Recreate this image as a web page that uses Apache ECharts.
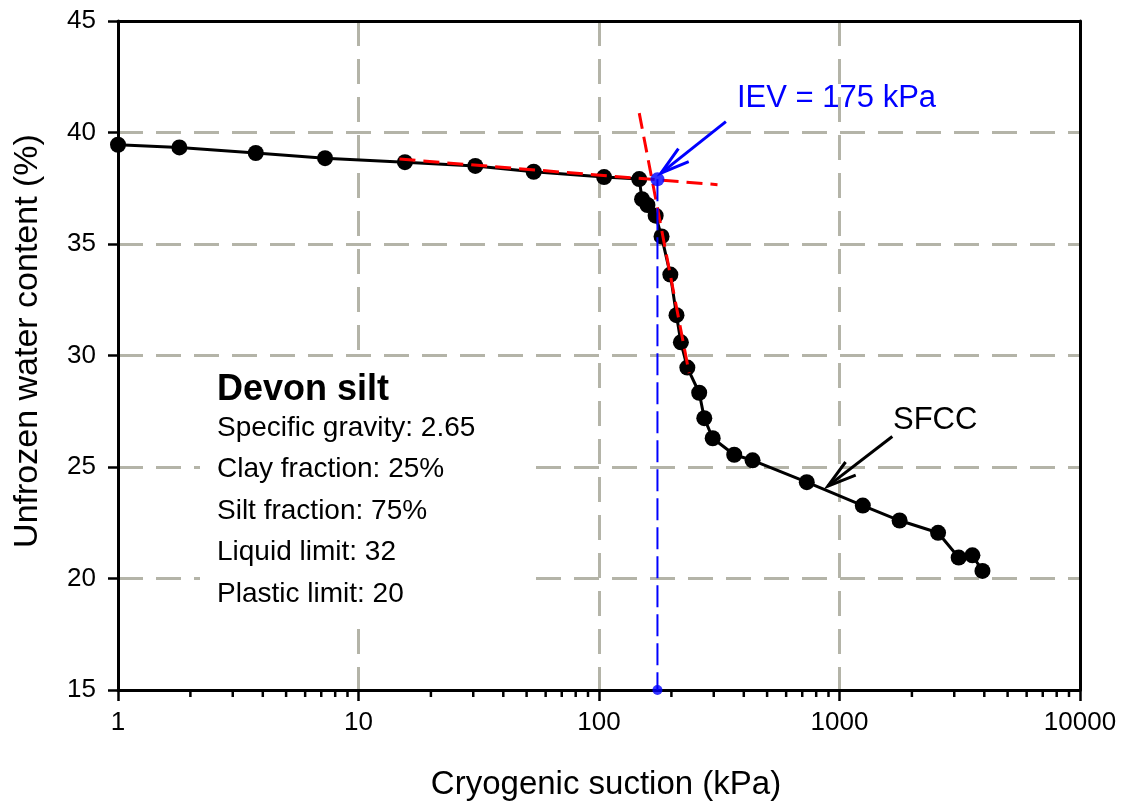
<!DOCTYPE html>
<html>
<head>
<meta charset="utf-8">
<title>Devon silt SFCC</title>
<script src="https://cdn.jsdelivr.net/npm/echarts@6/dist/echarts.min.js"></script>
<style>
  html, body { margin: 0; padding: 0; background: #ffffff; }
  #chart { width: 1122px; height: 806px; }
</style>
</head>
<body>
<div id="chart"></div>
<script>
// Soil freezing characteristic curve: cryogenic suction (kPa) vs unfrozen water content (%)
const suction = [1, 1.8, 3.74, 7.26, 15.6, 30.6, 53.5, 105, 147, 151, 159, 172, 182, 198, 210, 219, 233,
                 261, 274, 297, 365, 435, 731, 1250, 1778, 2570, 3130, 3570, 3930];
const water = [39.45, 39.33, 39.08, 38.85, 38.67, 38.50, 38.24, 38.0, 37.91, 37.01, 36.75, 36.27, 35.34,
               33.63, 31.81, 30.59, 29.46, 28.33, 27.19, 26.29, 25.55, 25.30, 24.32, 23.27, 22.60, 22.05,
               20.94, 21.04, 20.34];

// Axis ticks
const xTickLabels = ['1', '10', '100', '1000', '10000'];
const xMinorTicks = [];
[1, 10, 100, 1000].forEach(d => { for (let k = 2; k <= 9; k++) xMinorTicks.push(k * d); });
const yMin = 15, yMax = 45, yStep = 5;

// Tangent construction lines and the ice-entry value
const upperTangent = [[14.8, 38.81], [311, 37.66]];
const steepTangent = [[147, 40.87], [237, 29.21]];
const iev = 175;
const ievWater = 37.9;

// Annotation arrows: [fromX, fromY, toX, toY]
const ievArrow = [[337, 40.49, 181, 38.18]];
const sfccArrow = [[1658, 26.37, 894, 24.14]];

const soilName = 'Devon silt';
const soilInfo = ['Specific gravity: 2.65', 'Clay fraction: 25%', 'Silt fraction: 75%',
                  'Liquid limit: 32', 'Plastic limit: 20'];

const FONT = '"Liberation Sans", Arial, Helvetica, sans-serif';
const GRID_COLOR = '#b4b4a8';

const chart = echarts.init(document.getElementById('chart'), null, { renderer: 'canvas' });

function arrowRenderer(color) {
  return function (params, api) {
    const p0 = api.coord([api.value(0), api.value(1)]);
    const p1 = api.coord([api.value(2), api.value(3)]);
    const ang = Math.atan2(p0[1] - p1[1], p0[0] - p1[0]);
    const L = 30, h = 0.28;
    const w1 = [p1[0] + L * Math.cos(ang + h), p1[1] + L * Math.sin(ang + h)];
    const w2 = [p1[0] + L * Math.cos(ang - h), p1[1] + L * Math.sin(ang - h)];
    return {
      type: 'group',
      children: [
        { type: 'line', shape: { x1: p0[0], y1: p0[1], x2: p1[0], y2: p1[1] },
          style: { stroke: color, lineWidth: 3 } },
        { type: 'polyline', shape: { points: [w1, p1, w2] },
          style: { stroke: color, lineWidth: 3, fill: 'none' } }
      ]
    };
  };
}

// Soil properties panel: a white box that hides the grid behind the text
const infoChildren = [
  { type: 'rect', z: 1, shape: { x: 200, y: 362, width: 325, height: 260 },
    style: { fill: '#ffffff' } },
  { type: 'text', z: 1, x: 217, y: 390,
    style: { text: soilName, font: 'bold 36px ' + FONT, fill: '#000', textVerticalAlign: 'middle' } }
];
soilInfo.forEach((t, i) => {
  infoChildren.push({
    type: 'text', z: 1, x: 217, y: 428 + i * 41.5,
    style: { text: t, font: '28px ' + FONT, fill: '#000', textVerticalAlign: 'middle' }
  });
});

const option = {
  backgroundColor: '#ffffff',
  animation: false,
  grid: { left: 118, right: 42, top: 21, bottom: 115, containLabel: false },
  xAxis: [
    {
      type: 'log', logBase: 10, min: 1, max: 10000, position: 'bottom', z: 1,
      axisLine: { show: true, onZero: false, lineStyle: { color: '#000', width: 3 } },
      axisTick: { show: true, inside: false, length: 11, lineStyle: { color: '#000', width: 2.5 } },
      axisLabel: {
        show: true, margin: 20, color: '#000', fontSize: 26, fontFamily: FONT,
        formatter: v => xTickLabels[Math.round(Math.log10(v))]
      },
      splitLine: { show: false },
      name: 'Cryogenic suction (kPa)', nameLocation: 'middle', nameGap: 78,
      nameTextStyle: { color: '#000', fontSize: 33, fontFamily: FONT, padding: [0, 0, 0, 14] }
    },
    {
      type: 'log', logBase: 10, min: 1, max: 10000, position: 'top', z: 1,
      axisLine: { show: true, onZero: false, lineStyle: { color: '#000', width: 3 } },
      axisTick: { show: false }, axisLabel: { show: false }, splitLine: { show: false }
    },
    {
      type: 'log', logBase: 10, min: 1, max: 10000, position: 'bottom', z: 0,
      axisLine: { show: false }, axisTick: { show: false }, axisLabel: { show: false },
      splitLine: { show: true, lineStyle: { color: GRID_COLOR, width: 3, type: [25, 13] } }
    }
  ],
  yAxis: [
    {
      type: 'value', min: yMin, max: yMax, interval: yStep, position: 'left', z: 1,
      axisLine: { show: true, onZero: false, lineStyle: { color: '#000', width: 3 } },
      axisTick: { show: true, inside: false, length: 10, lineStyle: { color: '#000', width: 2.5 } },
      axisLabel: { show: true, margin: 22, color: '#000', fontSize: 26, fontFamily: FONT },
      splitLine: { show: false }
    },
    {
      type: 'value', min: yMin, max: yMax, interval: yStep, position: 'right', z: 1,
      axisLine: { show: true, onZero: false, lineStyle: { color: '#000', width: 3 } },
      axisTick: { show: false }, axisLabel: { show: false }, splitLine: { show: false }
    },
    {
      type: 'value', min: yMin, max: yMax, interval: yStep, position: 'left', z: 0,
      axisLine: { show: false }, axisTick: { show: false }, axisLabel: { show: false },
      splitLine: { show: true, lineStyle: { color: GRID_COLOR, width: 3, type: [25, 13] } }
    }
  ],
  graphic: [
    { type: 'group', z: 1, children: infoChildren },
    { type: 'text', z: 5, x: 28, y: 341, rotation: Math.PI / 2,
      style: { text: 'Unfrozen water content (%)', font: '34px ' + FONT, fill: '#000',
               textAlign: 'center', textVerticalAlign: 'middle' } },
    { type: 'text', z: 5, x: 737, y: 98,
      style: { text: 'IEV = 175 kPa', font: '31px ' + FONT, fill: '#0000ff', textVerticalAlign: 'middle' } },
    { type: 'text', z: 5, x: 893, y: 420,
      style: { text: 'SFCC', font: '31px ' + FONT, fill: '#000', textVerticalAlign: 'middle' } }
  ],
  series: [
    {
      name: 'SFCC', type: 'line', z: 2,
      data: suction.map((s, i) => [s, water[i]]),
      symbol: 'circle', symbolSize: 16,
      lineStyle: { color: '#000', width: 3 },
      itemStyle: { color: '#000' },
      clip: false
    },
    {
      name: 'upper tangent', type: 'line', z: 3, data: upperTangent, symbol: 'none',
      lineStyle: { color: '#ff0000', width: 3, type: [16, 8] }
    },
    {
      name: 'steep tangent', type: 'line', z: 3, data: steepTangent, symbol: 'none',
      lineStyle: { color: '#ff0000', width: 3, type: [16, 8] }
    },
    {
      name: 'IEV guide', type: 'line', z: 4, clip: false,
      data: [[iev, ievWater], [iev, yMin]],
      symbol: 'none',
      lineStyle: { color: '#0000ff', width: 2, type: [22, 7] }
    },
    {
      name: 'IEV', type: 'scatter', z: 5, clip: false,
      data: [[iev, ievWater, 14], [iev, yMin, 10]],
      symbol: 'circle', symbolSize: d => d[2],
      itemStyle: { color: '#0000ff' }
    },
    {
      name: 'minor ticks', type: 'custom', z: 1, clip: false,
      data: xMinorTicks.map(v => [v, yMin]),
      renderItem: (params, api) => {
        const p = api.coord([api.value(0), api.value(1)]);
        return { type: 'line', shape: { x1: p[0], y1: p[1], x2: p[0], y2: p[1] + 7 },
                 style: { stroke: '#000', lineWidth: 2.5 } };
      }
    },
    {
      name: 'IEV arrow', type: 'custom', z: 5, clip: false,
      data: ievArrow, encode: { x: [0, 2], y: [1, 3] },
      renderItem: arrowRenderer('#0000ff')
    },
    {
      name: 'SFCC arrow', type: 'custom', z: 5, clip: false,
      data: sfccArrow, encode: { x: [0, 2], y: [1, 3] },
      renderItem: arrowRenderer('#000000')
    }
  ]
};

chart.setOption(option);
</script>
</body>
</html>
